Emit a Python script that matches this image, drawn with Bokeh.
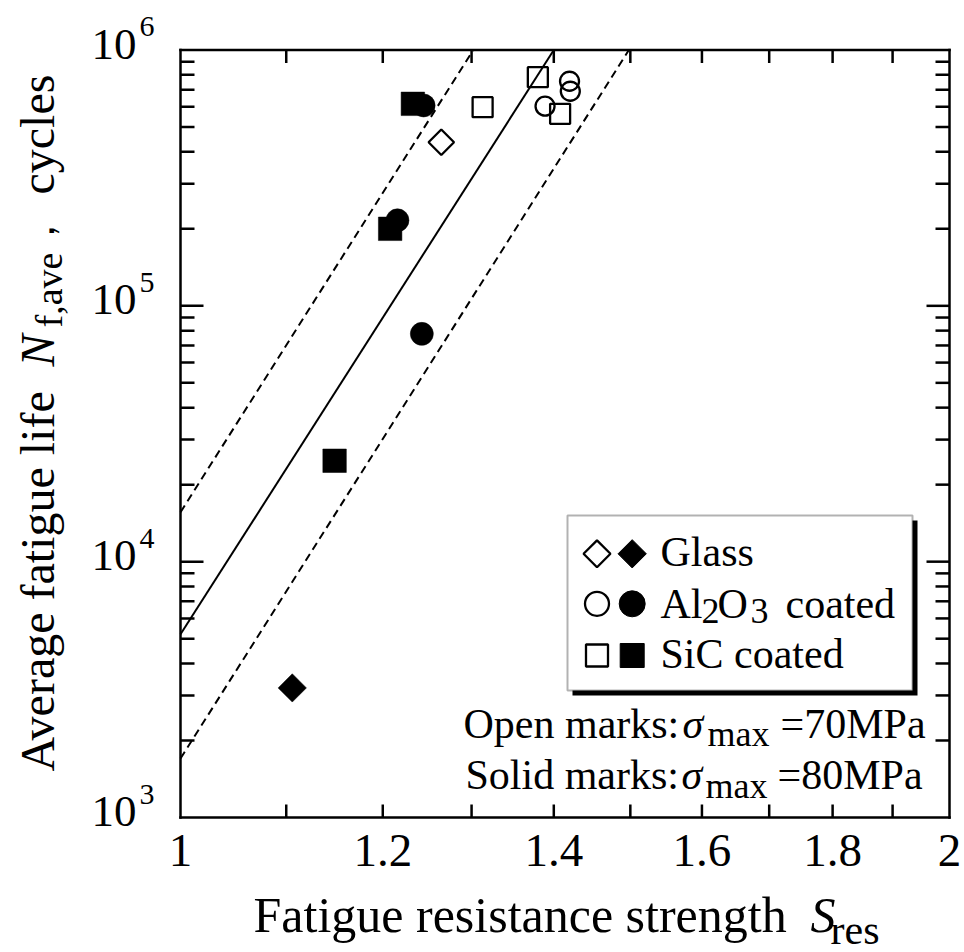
import math
from bokeh.plotting import figure
from bokeh.models import Label, BoxAnnotation, Range1d
from bokeh.embed import file_html
from bokeh.resources import INLINE

# ---------------- data ----------------
# open marks: sigma_max = 70 MPa
glass_open_S = [1.265]
glass_open_N = [4.36e5]
al_open_S = [1.389, 1.420, 1.421]
al_open_N = [6.03e5, 7.55e5, 6.90e5]
sic_open_S = [1.313, 1.380, 1.408]
sic_open_N = [5.98e5, 7.83e5, 5.63e5]
# solid marks: sigma_max = 80 MPa
glass_solid_S = [1.106]
glass_solid_N = [3.21e3]
al_solid_S = [1.245, 1.216, 1.243]
al_solid_N = [6.07e5, 2.16e5, 7.77e4]
sic_solid_S = [1.233, 1.208, 1.149]
sic_solid_N = [6.16e5, 2.00e5, 2.48e4]
# fitted line and scatter band
fit_S = [1.0, 1.400]
fit_N = [5.2e3, 1.0e6]
upper_S = [1.0, 1.302]
upper_N = [1.56e4, 1.0e6]
lower_S = [1.0, 1.498]
lower_N = [1.7e3, 1.0e6]

# axes
x_limits = [1.0, 2.0]
y_limits = [1e3, 1e6]
x_tick_values = [1.0, 1.2, 1.4, 1.6, 1.8, 2.0]
x_tick_labels = ["1", "1.2", "1.4", "1.6", "1.8", "2"]
x_minor_values = [1.1, 1.3, 1.5, 1.7, 1.9]
y_tick_values = [1e3, 1e4, 1e5, 1e6]
y_tick_base = "10"
y_tick_exponents = ["3", "4", "5", "6"]
y_minor_values = [m * d for d in (1e3, 1e4, 1e5) for m in range(2, 10)]

FONT = "Liberation Serif"
W, H = 964, 952
# plot-area box in page pixels
PL, PR, PT, PB = 180.0, 949.0, 49.5, 817.0
LX = math.log10(x_limits[1] / x_limits[0])
LY = math.log10(y_limits[1] / y_limits[0])
BASE_K = 0.31  # correction of Bokeh's alphabetic baseline placement


def sx(px):
    return x_limits[0] * 10 ** ((px - PL) / (PR - PL) * LX)


def sy(py):
    return y_limits[1] * 10 ** (-(py - PT) / (PB - PT) * LY)


def px_of(v):
    return PL + math.log10(v / x_limits[0]) / LX * (PR - PL)


def py_of(v):
    return PT + math.log10(y_limits[1] / v) / LY * (PB - PT)


def xfac(n):
    return 10 ** (n / (PR - PL) * LX)


def yfac(n):
    return 10 ** (n / (PB - PT) * LY)


p = figure(width=W, height=H, x_axis_type="log", y_axis_type="log",
           x_range=Range1d(sx(0), sx(W)), y_range=Range1d(sy(H), sy(0)),
           x_axis_location=None, y_axis_location=None,
           output_backend="svg", toolbar_location=None, min_border=0)
p.xgrid.visible = False
p.ygrid.visible = False
p.outline_line_color = None
p.background_fill_color = "white"
p.border_fill_color = "white"

AX = dict(line_color="black", line_width=2.5)

# ---------------- axes: box and inward ticks ----------------
x0, x1 = x_limits
y0, y1 = y_limits
p.segment(x0=[x0, x0, x0, x1], y0=[y0, y1, y0, y0],
          x1=[x1, x1, x0, x1], y1=[y0, y1, y1, y1], line_cap="square", **AX)

xt = x_tick_values[1:-1] + x_minor_values
p.segment(x0=xt, x1=xt, y0=[y0] * len(xt), y1=[y0 * yfac(13)] * len(xt), **AX)
p.segment(x0=xt, x1=xt, y0=[y1] * len(xt), y1=[y1 / yfac(13)] * len(xt), **AX)

yt = y_tick_values[1:-1]
p.segment(x0=[x0] * len(yt), x1=[x0 * xfac(23)] * len(yt), y0=yt, y1=yt, **AX)
p.segment(x0=[x1] * len(yt), x1=[x1 / xfac(23)] * len(yt), y0=yt, y1=yt, **AX)
p.segment(x0=[x0] * len(y_minor_values), x1=[x0 * xfac(14)] * len(y_minor_values),
          y0=y_minor_values, y1=y_minor_values, **AX)
p.segment(x0=[x1] * len(y_minor_values), x1=[x1 / xfac(14)] * len(y_minor_values),
          y0=y_minor_values, y1=y_minor_values, **AX)

# ---------------- lines ----------------
p.line(upper_S, upper_N, line_color="black", line_width=2, line_dash="8 5")
p.line(lower_S, lower_N, line_color="black", line_width=2, line_dash="8 5")
p.line(fit_S, fit_N, line_color="black", line_width=2)

# ---------------- legend box (underlay) ----------------
p.add_layout(BoxAnnotation(left=sx(572), right=sx(917), top=sy(520), bottom=sy(695),
                           fill_color="black", fill_alpha=1.0, line_color=None, level="underlay"))
p.add_layout(BoxAnnotation(left=sx(567), right=sx(912), top=sy(515), bottom=sy(690),
                           fill_color="white", fill_alpha=1.0, line_color="black",
                           line_width=2, level="underlay"))

# ---------------- markers ----------------
D = math.pi / 4
p.scatter(glass_open_S, glass_open_N, marker="square", angle=D, size=18,
          fill_color=None, line_color="black", line_width=2.3)
p.scatter(al_open_S, al_open_N, marker="circle", size=19,
          fill_color=None, line_color="black", line_width=2.3)
p.scatter(sic_open_S, sic_open_N, marker="square", size=20,
          fill_color=None, line_color="black", line_width=2.3)
p.scatter(glass_solid_S, glass_solid_N, marker="square", angle=D, size=20,
          fill_color="black", line_color="black", line_width=0.5)
p.scatter(al_solid_S, al_solid_N, marker="circle", size=23,
          fill_color="black", line_color="black", line_width=0.5)
p.scatter(sic_solid_S, sic_solid_N, marker="square", size=23.5,
          fill_color="black", line_color="black", line_width=0.5)

# legend keys
lx_open, lx_solid = sx(596.5), sx(631.7)
ly = [sy(553.3), sy(603.3), sy(655.0)]
p.scatter([lx_open], [ly[0]], marker="square", angle=D, size=19, fill_color=None, line_color="black", line_width=2.3)
p.scatter([lx_solid], [ly[0]], marker="square", angle=D, size=20, fill_color="black", line_color="black")
p.scatter([lx_open], [ly[1]], marker="circle", size=24, fill_color=None, line_color="black", line_width=2.3)
p.scatter([lx_solid], [ly[1]], marker="circle", size=26, fill_color="black", line_color="black")
p.scatter([lx_open], [ly[2]], marker="square", size=22, fill_color=None, line_color="black", line_width=2.3)
p.scatter([lx_solid], [ly[2]], marker="square", size=24, fill_color="black", line_color="black")


def ptxt(px, py, s, size, style="normal", rotated=False, align="left"):
    """Place text with its alphabetic baseline at page pixel (px, py)."""
    shift = BASE_K * size
    if rotated:
        px -= shift
    else:
        py -= shift
    p.add_layout(Label(x=sx(px), y=sy(py), text=s, text_font=FONT,
                       text_font_size=f"{size}px", text_font_style=style,
                       text_align=align, text_baseline="alphabetic",
                       angle=(math.pi / 2 if rotated else 0.0), text_color="black"))


# legend texts
ptxt(660, 565, "Glass", 42)
ptxt(660, 617, "Al", 42)
ptxt(701, 622, "2", 36)
ptxt(717, 617, "O", 42)
ptxt(750, 622, "3", 36)
ptxt(785, 617, "coated", 42)
ptxt(660, 667, "SiC coated", 42)

# condition notes
ptxt(463, 737, "Open marks:", 42)
ptxt(682, 737, "σ", 42, style="italic")
ptxt(707, 745, "max", 36)
ptxt(780, 737, "=70MPa", 42)
ptxt(465, 788, "Solid marks:", 42)
ptxt(681, 788, "σ", 42, style="italic")
ptxt(705, 797, "max", 36)
ptxt(777, 788, "=80MPa", 42)

# x tick labels
for v, s in zip(x_tick_values, x_tick_labels):
    ptxt(px_of(v), 865, s, 47, align="center")

# y tick labels 10^n
for v, e in zip(y_tick_values, y_tick_exponents):
    ptxt(136, py_of(v) + 8, y_tick_base, 45, align="right")
    ptxt(139, py_of(v) - 14, e, 30)

# x axis title
ptxt(253, 930, "Fatigue resistance strength", 50)
ptxt(810, 930, "S", 50, style="italic")
ptxt(830, 943, "res", 42)

# y axis title (rotated)
ptxt(52, 771, "Average fatigue life", 48, rotated=True)
ptxt(52, 366, "N", 48, style="italic", rotated=True)
ptxt(60, 327, "f,ave", 38, rotated=True)
ptxt(52, 250, "，", 40, rotated=True)
ptxt(52, 194, "cycles", 48, rotated=True)

open("out.html", "w").write(file_html(p, INLINE))
